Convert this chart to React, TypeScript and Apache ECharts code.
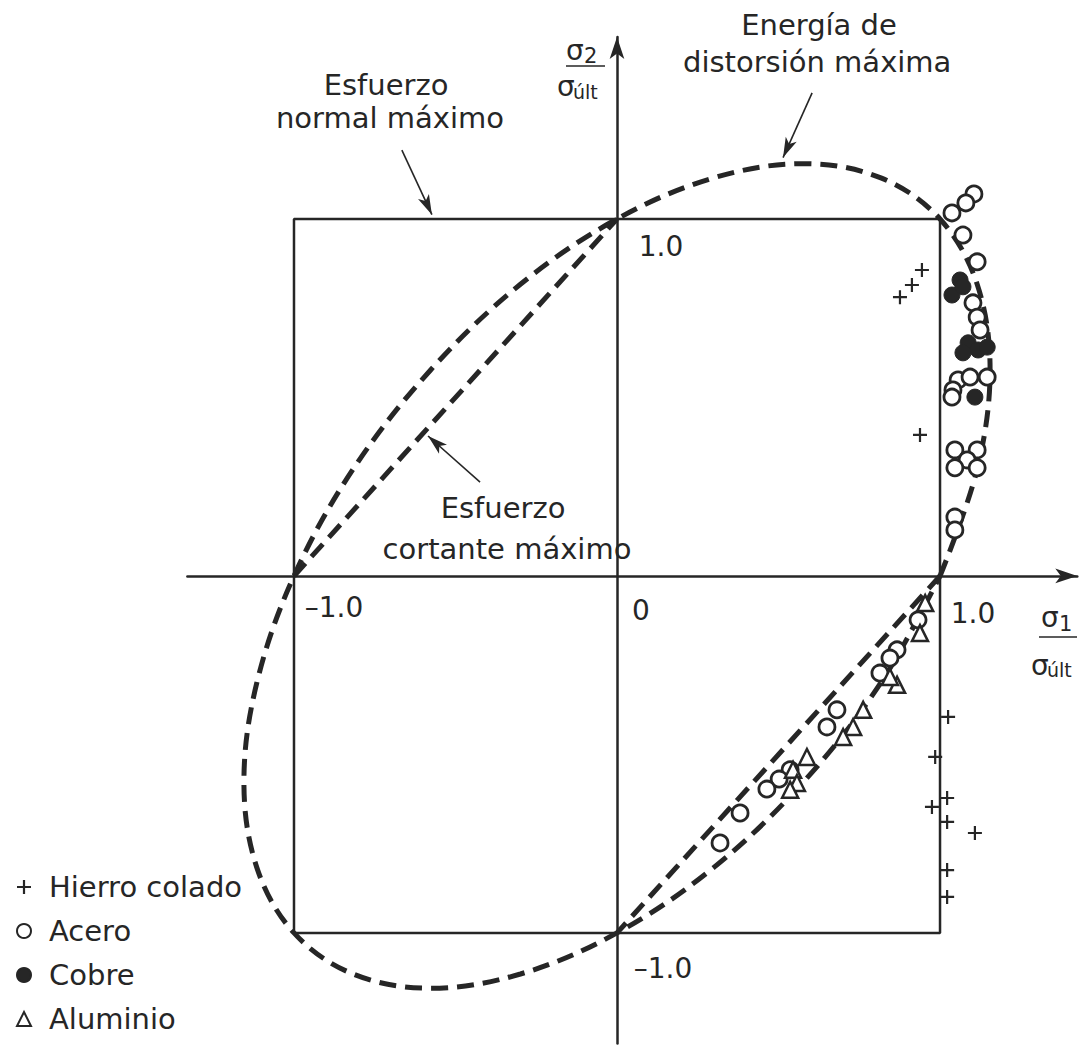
import React, { useEffect, useRef } from "react";
import * as echarts from "echarts";

// Experimental biaxial failure data, σ1/σúlt vs σ2/σúlt
const hierroColado: number[][] = [
  [0.876, 0.781], [0.913, 0.815], [0.944, 0.857], [0.938, 0.395],
  [1.025, -0.395], [0.985, -0.507], [1.022, -0.622], [0.975, -0.647],
  [1.022, -0.689], [1.108, -0.72], [1.022, -0.824], [1.022, -0.899],
];

const acero: number[][] = [
  [1.105, 1.07], [1.08, 1.045], [1.037, 1.017], [1.071, 0.955], [1.115, 0.88],
  [1.102, 0.765], [1.115, 0.725], [1.124, 0.689],
  [1.056, 0.549], [1.093, 0.557], [1.146, 0.557], [1.04, 0.521], [1.037, 0.501],
  [1.046, 0.353], [1.115, 0.353], [1.084, 0.325], [1.046, 0.303], [1.115, 0.303],
  [1.046, 0.165], [1.046, 0.129],
  [0.932, -0.123], [0.867, -0.207], [0.845, -0.23], [0.814, -0.272],
  [0.681, -0.375], [0.65, -0.423], [0.536, -0.543], [0.502, -0.569],
  [0.464, -0.597], [0.381, -0.664], [0.319, -0.748],
];

const cobre: number[][] = [
  [1.062, 0.829], [1.037, 0.787], [1.071, 0.81],
  [1.087, 0.653], [1.071, 0.625], [1.118, 0.633], [1.146, 0.641],
  [1.108, 0.501],
];

const aluminio: number[][] = [
  [0.954, -0.076], [0.938, -0.16], [0.867, -0.305], [0.845, -0.283],
  [0.762, -0.375], [0.731, -0.423], [0.7, -0.451], [0.588, -0.507],
  [0.545, -0.543], [0.557, -0.58], [0.536, -0.599],
];

// Failure envelopes
const normalMaximo: number[][] = [[-1, -1], [-1, 1], [1, 1], [1, -1], [-1, -1]];
const cortanteQ2: number[][] = [[-1, 0], [0, 1]];
const cortanteQ4: number[][] = [[1, 0], [0, -1]];
const distorsionMaxima: number[][] = [
  [1, 0], [1.115, 0.299], [1.155, 0.577], [1.115, 0.817], [1, 1],
  [0.817, 1.115], [0.577, 1.155], [0.299, 1.115], [0, 1], [-0.299, 0.817],
  [-0.577, 0.577], [-0.817, 0.299], [-1, 0], [-1.115, -0.299], [-1.155, -0.577],
  [-1.115, -0.817], [-1, -1], [-0.817, -1.115], [-0.577, -1.155], [-0.299, -1.115],
  [0, -1], [0.299, -0.817], [0.577, -0.577], [0.817, -0.299], [1, 0],
];

// Tick labels placed at their axis values
const tickLabels: { value: number[]; text: string; offset: number[] }[] = [
  { value: [1, 0], text: "1.0", offset: [33, 38] },
  { value: [-1, 0], text: "\u20131.0", offset: [40, 32] },
  { value: [0, 0], text: "0", offset: [24, 35] },
  { value: [0, 1], text: "1.0", offset: [44, 28] },
  { value: [0, -1], text: "\u20131.0", offset: [46, 36] },
];

// Callout arrows: [from, to]
const arrowNormal = [[-0.666, 1.193], [-0.573, 1.012]];
const arrowDistorsion = [[0.604, 1.353], [0.514, 1.172]];
const arrowCortante = [[-0.424, 0.263], [-0.585, 0.392]];

const INK = "#262626";
const FONT = '"DejaVu Sans", Verdana, sans-serif';
const CROSS = "path://M5.9,0H8.1V5.9H14V8.1H8.1V14H5.9V8.1H0V5.9H5.9Z";

const dashed = { color: INK, width: 5, type: [17, 9] as number[], cap: "butt" as const };

function txt(x: number, y: number, text: string, fontSize: number, align = "center") {
  return {
    type: "text",
    x,
    y,
    silent: true,
    style: {
      text,
      fontSize,
      fontFamily: FONT,
      fill: INK,
      align,
      verticalAlign: "middle",
    },
  };
}

export default function App() {
  const ref = useRef<HTMLDivElement>(null);

  useEffect(() => {
    if (!ref.current) return;
    const chart = echarts.init(ref.current, undefined, { renderer: "svg" });

    const axisCommon = {
      type: "value" as const,
      axisTick: { show: false },
      axisLabel: { show: false },
      splitLine: { show: false },
    };

    const arrowLine = (pts: number[][]) => [
      { coord: pts[0], symbol: "none" },
      { coord: pts[1], symbol: "arrow" },
    ];

    chart.setOption({
      animation: false,
      backgroundColor: "#ffffff",
      grid: { left: 187.4, top: 36.9, width: 889.9, height: 1006.7 },
      xAxis: {
        ...axisCommon,
        min: -1.33,
        max: 1.425,
        axisLine: {
          onZero: true,
          symbol: ["none", "arrow"],
          symbolSize: [11, 22],
          lineStyle: { color: INK, width: 2.5 },
        },
      },
      yAxis: {
        ...axisCommon,
        min: -1.31,
        max: 1.51,
        axisLine: {
          onZero: true,
          symbol: ["none", "arrow"],
          symbolSize: [11, 22],
          lineStyle: { color: INK, width: 2.5 },
        },
      },
      legend: {
        orient: "vertical",
        left: 16,
        top: 871,
        padding: 0,
        itemWidth: 14,
        itemHeight: 14,
        itemGap: 12,
        selectedMode: false,
        data: ["Hierro colado", "Acero", "Cobre", "Aluminio"],
        textStyle: {
          fontSize: 29,
          lineHeight: 32,
          fontFamily: FONT,
          color: INK,
          padding: [0, 0, 0, 13],
        },
      },
      series: [
        {
          name: "normalMaximo",
          type: "line",
          data: normalMaximo,
          symbol: "none",
          lineStyle: { color: INK, width: 2.5 },
          silent: true,
          z: 2,
        },
        {
          name: "cortanteQ2",
          type: "line",
          data: cortanteQ2,
          symbol: "none",
          lineStyle: dashed,
          silent: true,
          z: 2,
        },
        {
          name: "cortanteQ4",
          type: "line",
          data: cortanteQ4,
          symbol: "none",
          lineStyle: dashed,
          silent: true,
          z: 2,
        },
        {
          name: "distorsionMaxima",
          type: "line",
          data: distorsionMaxima,
          symbol: "none",
          smooth: 0.35,
          lineStyle: dashed,
          silent: true,
          z: 2,
        },
        {
          name: "Hierro colado",
          type: "scatter",
          data: hierroColado,
          symbol: CROSS,
          symbolSize: 14,
          itemStyle: { color: INK, opacity: 1 },
          z: 4,
        },
        {
          name: "Acero",
          type: "scatter",
          data: acero,
          symbol: "circle",
          symbolSize: 16,
          itemStyle: { color: "#ffffff", borderColor: INK, borderWidth: 2.8, opacity: 1 },
          z: 4,
        },
        {
          name: "Cobre",
          type: "scatter",
          data: cobre,
          symbol: "circle",
          symbolSize: 16,
          itemStyle: { color: INK, borderColor: INK, borderWidth: 1, opacity: 1 },
          z: 5,
        },
        {
          name: "Aluminio",
          type: "scatter",
          data: aluminio,
          symbol: "triangle",
          symbolSize: 16,
          itemStyle: { color: "#ffffff", borderColor: INK, borderWidth: 2.5, opacity: 1 },
          z: 4,
        },
        {
          name: "ticks",
          type: "scatter",
          symbolSize: 0,
          silent: true,
          itemStyle: { opacity: 1 },
          data: tickLabels.map((t) => ({
            value: t.value,
            label: {
              show: true,
              formatter: t.text,
              offset: t.offset,
              position: "inside",
              fontSize: 28,
              fontFamily: FONT,
              color: INK,
              opacity: 1,
            },
          })),
          z: 6,
        },
        {
          name: "callouts",
          type: "line",
          data: [],
          silent: true,
          markLine: {
            silent: true,
            symbolSize: [9, 20],
            label: { show: false },
            lineStyle: { color: INK, width: 1.6, type: "solid" },
            data: [arrowLine(arrowNormal), arrowLine(arrowDistorsion), arrowLine(arrowCortante)],
          },
        },
      ],
      graphic: [
        txt(386, 85, "Esfuerzo", 29),
        txt(390, 118, "normal máximo", 29),
        txt(819, 25, "Energía de", 29),
        txt(683, 62, "distorsión máxima", 29, "left"),
        txt(503, 508, "Esfuerzo", 29),
        txt(507, 549, "cortante máximo", 29),
        // σ2 / σúlt
        txt(566, 50, "σ", 28, "left"),
        txt(584, 56, "2", 21, "left"),
        {
          type: "line",
          silent: true,
          shape: { x1: 566, y1: 66, x2: 605, y2: 66 },
          style: { stroke: INK, lineWidth: 1.6 },
        },
        txt(557, 86, "σ", 28, "left"),
        txt(573, 92, "últ", 19, "left"),
        // σ1 / σúlt
        txt(1041, 617, "σ", 28, "left"),
        txt(1059, 624, "1", 21, "left"),
        {
          type: "line",
          silent: true,
          shape: { x1: 1039, y1: 637, x2: 1077, y2: 637 },
          style: { stroke: INK, lineWidth: 1.6 },
        },
        txt(1031, 665, "σ", 28, "left"),
        txt(1047, 670, "últ", 19, "left"),
      ],
    });

    return () => chart.dispose();
  }, []);

  return (
    <div
      ref={ref}
      style={{ position: "fixed", left: 0, top: 0, width: 1083, height: 1054, background: "#fff" }}
    />
  );
}
